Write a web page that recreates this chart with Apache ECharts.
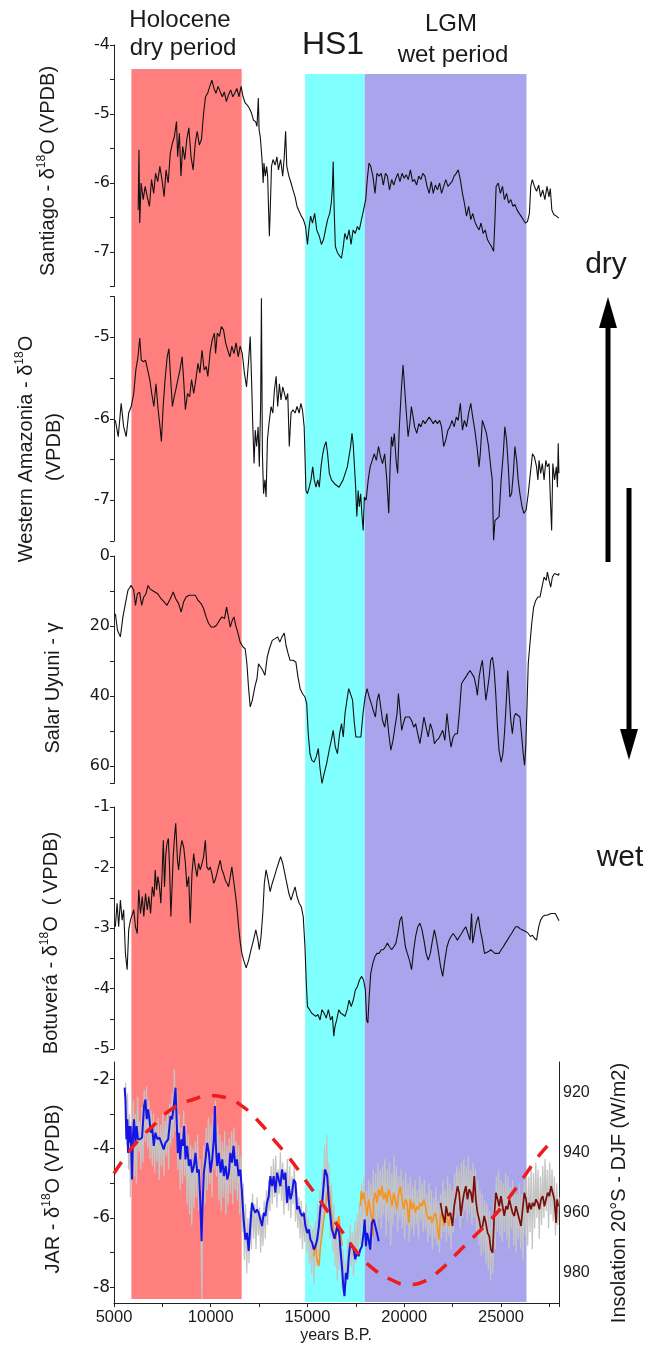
<!DOCTYPE html>
<html><head><meta charset="utf-8">
<script src="https://cdn.jsdelivr.net/npm/echarts@6.0.0/dist/echarts.min.js"></script>
<style>html,body{margin:0;padding:0;background:#fff}#c{width:648px;height:1345px}</style>
</head><body><div id="c"></div>
<script>
// ---------- DATA ----------
const X_TICKS = [5000, 10000, 15000, 20000, 25000];
const BAND_NAMES = ['Holocene dry period', 'HS1', 'LGM wet period'];
const BAND_START = [5900, 14880, 17960];
const BAND_END = [11600, 17960, 26320];

const SANTIAGO_YR = [6250,6290,6330,6400,6510,6610,6720,6830,6940,7050,7150,7260,7370,7480,7590,7690,7800,7910,8020,8120,8230,8290,8380,8460,8550,8660,8760,8870,8980,9090,9200,9300,9410,9520,9630,9730,9840,9950,10060,10170,10270,10380,10490,10600,10700,10810,10920,11030,11140,11240,11350,11460,11570,11670,11780,11890,12000,12110,12210,12320,12390,12460,12500,12560,12600,12650,12710,12750,12820,12890,12940,13030,13070,13140,13220,13330,13420,13500,13610,13720,13800,13870,13930,14040,14150,14250,14360,14460,14570,14680,14790,14900,15000,15070,15160,15260,15370,15480,15610,15720,15830,15930,16040,16150,16230,16290,16330,16380,16440,16550,16670,16760,16850,16930,17040,17150,17250,17360,17470,17580,17680,17790,17900,18010,18090,18180,18270,18380,18490,18590,18700,18810,18920,19030,19130,19240,19350,19460,19570,19670,19780,19890,20000,20100,20210,20320,20430,20530,20640,20750,20860,20960,21070,21180,21290,21400,21500,21610,21720,21830,21930,22040,22150,22260,22360,22470,22580,22690,22790,22900,23010,23110,23220,23330,23440,23540,23650,23760,23870,23970,24080,24190,24300,24400,24510,24620,24690,24750,24860,24970,25080,25180,25290,25400,25510,25620,25720,25830,25940,26040,26150,26260,26370,26470,26540,26620,26730,26840,26950,27050,27160,27270,27380,27480,27550,27630,27740,27870,27990];
const SANTIAGO_D18O = [-6.39,-5.52,-6.58,-6.0,-6.24,-6.05,-6.2,-6.34,-5.95,-6.15,-5.86,-5.98,-5.76,-5.95,-6.2,-5.81,-6.0,-5.57,-5.42,-5.33,-5.11,-5.62,-5.28,-5.9,-5.47,-5.66,-5.37,-5.2,-5.62,-5.81,-5.42,-5.25,-5.45,-5.37,-4.99,-4.75,-4.7,-4.6,-4.51,-4.63,-4.7,-4.6,-4.68,-4.75,-4.68,-4.82,-4.72,-4.65,-4.75,-4.7,-4.63,-4.75,-4.6,-4.75,-4.84,-4.87,-4.92,-4.99,-5.09,-5.11,-5.18,-4.77,-5.23,-5.33,-5.47,-5.66,-6.0,-5.71,-5.9,-5.76,-5.9,-6.77,-6.44,-5.76,-5.66,-5.74,-5.62,-5.81,-5.66,-5.9,-5.62,-5.25,-5.76,-5.9,-6.0,-6.1,-6.2,-6.34,-6.41,-6.48,-6.53,-6.63,-6.89,-6.68,-6.48,-6.58,-6.44,-6.68,-6.77,-6.89,-6.82,-6.68,-6.53,-6.44,-6.29,-6.05,-5.69,-6.39,-6.92,-7.01,-7.06,-7.09,-6.92,-6.73,-6.82,-6.68,-6.89,-6.68,-6.73,-6.63,-6.68,-6.53,-6.39,-6.24,-5.95,-5.71,-5.76,-5.9,-6.15,-5.86,-5.9,-5.86,-6.03,-5.86,-5.9,-6.1,-5.95,-6.03,-5.93,-5.86,-5.98,-5.86,-5.93,-5.88,-5.95,-5.81,-5.98,-5.95,-6.03,-5.9,-5.95,-5.86,-5.9,-6.05,-6.15,-5.98,-6.15,-6.03,-6.1,-6.0,-6.15,-6.05,-5.95,-6.05,-6.03,-5.98,-5.9,-5.86,-5.81,-5.95,-6.15,-6.29,-6.48,-6.34,-6.53,-6.44,-6.56,-6.63,-6.68,-6.58,-6.73,-6.68,-6.82,-6.87,-6.92,-6.99,-6.53,-6.05,-6.0,-6.15,-6.05,-6.24,-6.15,-6.29,-6.24,-6.34,-6.31,-6.39,-6.44,-6.48,-6.53,-6.58,-6.56,-6.44,-6.05,-5.95,-6.05,-6.12,-6.03,-6.2,-6.1,-6.24,-6.05,-6.2,-6.08,-6.39,-6.46,-6.48,-6.51];

const AMAZONIA_YR = [5070,5220,5370,5500,5630,5760,5890,6020,6130,6240,6330,6410,6520,6630,6740,6850,6950,7060,7170,7280,7380,7450,7540,7640,7750,7840,7930,8020,8110,8190,8300,8410,8520,8600,8690,8800,8910,9010,9120,9230,9340,9440,9550,9660,9770,9850,9980,10080,10190,10250,10340,10450,10550,10660,10770,10880,10990,11090,11200,11310,11420,11520,11630,11740,11850,11960,12040,12110,12170,12240,12300,12370,12450,12510,12580,12620,12670,12730,12800,12860,12930,13010,13120,13210,13290,13380,13460,13550,13630,13720,13810,13890,13980,14060,14150,14250,14360,14460,14570,14660,14740,14830,14920,15000,15090,15180,15270,15350,15440,15530,15610,15700,15790,15870,15960,16040,16130,16240,16410,16630,16840,17060,17230,17300,17360,17430,17490,17550,17620,17680,17750,17810,17880,17940,18030,18140,18240,18350,18450,18560,18670,18780,18880,18990,19100,19200,19270,19340,19400,19490,19580,19660,19740,19850,19940,20030,20110,20200,20290,20370,20460,20540,20650,20760,20860,20970,21080,21180,21290,21400,21500,21610,21720,21830,21930,22040,22150,22260,22360,22470,22580,22690,22790,22900,23010,23110,23220,23330,23440,23540,23650,23760,23870,23930,24040,24150,24250,24360,24470,24550,24620,24690,24790,24900,25010,25120,25200,25290,25380,25460,25550,25640,25720,25810,25890,25980,26090,26190,26300,26410,26520,26630,26730,26840,26910,26970,27050,27140,27230,27320,27400,27490,27550,27620,27680,27770,27860,27920,27960,27995];
const AMAZONIA_D18O = [-6.02,-6.22,-5.81,-6.1,-6.22,-5.93,-5.85,-5.69,-5.4,-5.24,-5.01,-5.28,-5.3,-5.28,-5.4,-5.52,-5.69,-5.85,-5.57,-5.89,-6.1,-6.28,-5.85,-5.52,-5.24,-5.14,-5.52,-5.85,-5.73,-5.65,-5.52,-5.4,-5.24,-5.52,-5.89,-5.69,-5.73,-5.52,-5.69,-5.52,-5.32,-5.44,-5.16,-5.4,-5.36,-5.48,-5.16,-5.03,-4.95,-5.2,-4.95,-4.99,-4.87,-4.91,-5.07,-5.16,-5.24,-5.11,-5.2,-5.07,-5.24,-5.11,-5.2,-5.44,-5.61,-5.28,-4.99,-5.52,-6.06,-6.55,-6.14,-6.34,-6.1,-6.59,-5.81,-4.52,-6.43,-6.92,-6.75,-6.96,-6.26,-6.06,-5.85,-5.93,-5.65,-5.48,-5.85,-5.57,-5.77,-5.61,-5.69,-5.77,-5.69,-6.34,-5.93,-5.89,-5.93,-5.85,-5.93,-5.81,-5.89,-6.1,-6.88,-6.92,-6.84,-6.75,-6.59,-6.75,-6.84,-6.75,-6.84,-6.59,-6.43,-6.34,-6.28,-6.43,-6.67,-6.75,-6.8,-6.84,-6.75,-6.59,-6.34,-6.18,-6.3,-6.59,-6.84,-7.2,-6.88,-7.08,-6.92,-7.16,-7.37,-6.96,-7.0,-6.75,-6.59,-6.51,-6.43,-6.51,-6.34,-6.47,-6.55,-6.43,-6.75,-7.16,-6.59,-6.22,-6.34,-6.18,-6.51,-6.67,-6.14,-5.65,-5.34,-5.65,-5.93,-6.22,-6.06,-5.85,-5.98,-6.1,-6.18,-6.06,-6.1,-6.02,-6.06,-6.02,-5.98,-6.02,-6.06,-6.02,-6.06,-6.02,-6.1,-6.34,-6.26,-6.14,-6.1,-6.02,-6.1,-5.98,-6.02,-5.81,-6.14,-6.02,-6.1,-5.93,-5.81,-5.98,-6.14,-6.34,-6.59,-6.43,-6.02,-6.1,-6.18,-6.34,-6.59,-6.75,-7.49,-7.25,-7.25,-7.2,-6.75,-6.43,-6.1,-6.26,-6.59,-6.96,-6.92,-6.67,-6.34,-6.51,-6.75,-6.92,-7.08,-7.16,-7.12,-6.92,-6.67,-6.43,-6.47,-6.59,-6.75,-6.51,-6.67,-6.55,-6.75,-6.51,-6.59,-6.55,-6.96,-7.37,-6.55,-6.75,-6.59,-6.84,-6.3,-6.67];

const UYUNI_YR = [5070,5180,5330,5460,5590,5720,5890,6020,6110,6210,6320,6430,6540,6650,6760,6850,6960,7110,7260,7430,7590,7740,7910,8060,8190,8340,8470,8600,8730,8880,9030,9200,9350,9500,9630,9760,9890,10020,10170,10300,10450,10580,10710,10820,10900,11010,11110,11200,11290,11390,11520,11670,11780,11870,11950,12040,12150,12280,12390,12470,12580,12690,12800,12920,13030,13180,13330,13460,13570,13680,13800,13890,14000,14100,14250,14400,14510,14620,14740,14870,14960,15040,15130,15230,15340,15450,15560,15640,15750,15860,15990,16120,16230,16330,16440,16550,16660,16760,16850,16940,17040,17130,17220,17330,17410,17500,17630,17760,17870,17980,18080,18190,18300,18400,18510,18600,18690,18770,18880,18990,19100,19200,19310,19420,19520,19630,19700,19780,19870,19950,20060,20160,20270,20380,20490,20590,20700,20810,20920,21020,21130,21240,21350,21460,21560,21670,21780,21880,21990,22100,22210,22320,22420,22530,22640,22750,22860,22960,23070,23180,23290,23400,23500,23610,23720,23780,23870,23960,24040,24130,24220,24300,24390,24470,24560,24650,24730,24820,24900,25010,25100,25180,25270,25350,25440,25510,25590,25680,25760,25870,25980,26060,26150,26220,26280,26350,26410,26500,26590,26690,26800,26910,27020,27120,27230,27340,27400,27490,27570,27660,27770,27870,27980,28000];
const UYUNI_GAMMA = [16.5,21.2,23.1,17.4,13.6,9.8,8.4,9.8,14.1,10.8,10.3,14.1,11.7,10.8,8.4,9.3,9.8,10.3,10.8,12.2,13.1,14.1,12.2,10.3,12.2,13.6,16.0,13.1,11.7,11.2,11.2,11.2,12.7,13.6,15.0,17.4,19.3,20.3,20.3,19.8,18.4,17.4,17.9,14.6,17.0,20.3,18.4,17.4,19.8,21.7,24.6,26.0,26.5,30.8,37.4,43.1,41.2,37.4,35.0,30.8,31.7,32.7,34.1,28.9,26.5,24.1,23.6,23.1,24.6,23.1,22.0,25.5,27.9,29.8,29.8,30.3,34.6,37.9,39.3,40.3,42.2,50.8,56.5,58.4,58.9,57.4,55.0,60.3,65.0,62.2,59.3,55.5,52.7,49.8,54.6,56.5,50.8,47.9,51.7,45.0,41.2,37.9,39.3,41.2,47.0,51.7,51.7,51.7,45.0,40.3,37.9,40.3,42.2,44.1,46.0,41.2,39.3,42.5,47.0,48.9,45.0,50.8,55.5,52.7,48.9,45.0,39.3,44.1,49.8,47.9,46.0,46.0,46.0,47.0,48.9,47.9,50.8,53.6,49.8,46.0,48.9,51.7,47.9,49.8,53.6,52.7,52.2,51.7,49.8,52.7,45.0,50.8,54.6,51.7,50.8,50.8,44.1,36.5,35.5,34.6,33.6,32.7,32.2,34.6,37.4,39.8,34.6,31.7,29.8,35.5,41.2,38.3,34.6,29.8,28.9,32.7,39.3,48.9,55.5,58.9,56.5,50.8,42.2,32.7,41.2,47.0,50.8,46.0,45.0,45.5,46.0,50.8,56.5,59.8,54.6,42.2,30.8,25.0,19.3,14.6,12.7,11.7,11.7,8.9,6.0,7.0,4.6,7.0,8.9,6.0,5.0,5.5,5.5,4.9];

const BOTUVERA_YR = [5070,5160,5240,5330,5420,5500,5590,5680,5760,5850,5930,6020,6110,6200,6280,6370,6460,6540,6630,6720,6800,6890,6980,7070,7130,7200,7270,7350,7420,7480,7550,7610,7680,7740,7810,7870,7940,8000,8060,8130,8190,8280,8340,8430,8510,8600,8690,8770,8860,8940,9030,9120,9200,9290,9370,9460,9550,9630,9720,9800,9890,9970,10060,10150,10230,10320,10400,10490,10580,10660,10750,10840,10920,11010,11090,11180,11270,11350,11440,11530,11610,11700,11830,11960,12080,12210,12330,12440,12510,12600,12690,12770,12860,12970,13070,13180,13290,13390,13500,13610,13720,13830,13930,14040,14150,14250,14360,14460,14570,14680,14780,14870,14940,15000,15110,15220,15320,15430,15540,15650,15750,15860,15970,16080,16190,16290,16360,16420,16510,16620,16720,16830,16940,17050,17150,17260,17370,17480,17580,17690,17800,17900,17990,18060,18120,18190,18270,18380,18490,18590,18700,18810,18920,19030,19130,19240,19350,19460,19570,19670,19780,19870,19950,20060,20160,20270,20380,20490,20590,20700,20810,20920,21020,21130,21240,21350,21460,21560,21670,21780,21880,21990,22100,22210,22320,22420,22530,22640,22750,22860,22960,23070,23180,23290,23400,23480,23540,23630,23720,23830,23930,24040,24150,24250,24360,24470,24580,24690,24790,24900,25010,25120,25230,25330,25440,25550,25660,25760,25870,25980,26090,26190,26300,26410,26520,26630,26730,26840,26950,27050,27160,27270,27380,27480,27590,27700,27810,27910,28000];
const BOTUVERA_D18O = [-2.98,-2.59,-2.98,-2.54,-2.87,-2.70,-3.42,-3.69,-3.03,-2.87,-2.87,-2.70,-2.98,-3.09,-2.37,-2.76,-2.48,-2.81,-2.43,-2.70,-2.48,-2.76,-2.32,-2.48,-2.04,-2.37,-2.15,-2.32,-2.59,-2.15,-1.55,-2.32,-1.77,-1.60,-1.52,-1.99,-2.81,-2.32,-1.82,-1.49,-1.27,-1.88,-2.04,-1.71,-1.55,-1.66,-1.93,-2.32,-2.15,-2.92,-2.10,-1.77,-1.99,-2.15,-1.93,-2.04,-1.93,-1.82,-1.55,-1.99,-2.04,-1.99,-2.10,-2.26,-2.21,-2.10,-1.99,-1.88,-2.04,-2.10,-2.21,-2.26,-2.32,-2.15,-1.99,-2.21,-2.43,-2.65,-2.98,-3.25,-3.42,-3.53,-3.66,-3.53,-3.36,-3.20,-3.03,-3.20,-3.36,-3.14,-2.76,-2.26,-2.04,-2.21,-2.40,-2.26,-2.15,-2.04,-1.93,-1.82,-1.93,-2.10,-2.26,-2.43,-2.54,-2.43,-2.32,-2.48,-2.59,-2.65,-2.81,-3.31,-3.91,-4.30,-4.35,-4.41,-4.43,-4.46,-4.43,-4.52,-4.35,-4.41,-4.49,-4.35,-4.52,-4.46,-4.79,-4.63,-4.52,-4.35,-4.41,-4.43,-4.46,-4.35,-4.19,-4.30,-4.19,-4.02,-3.97,-3.86,-3.80,-3.86,-4.02,-4.52,-4.57,-4.13,-3.75,-3.58,-3.47,-3.42,-3.42,-3.36,-3.36,-3.31,-3.25,-3.31,-3.36,-3.31,-3.25,-3.09,-2.87,-2.81,-3.03,-3.31,-3.42,-3.53,-3.69,-3.36,-3.14,-2.98,-2.92,-3.03,-3.20,-3.42,-3.53,-3.42,-3.20,-3.03,-3.20,-3.42,-3.64,-3.80,-3.53,-3.31,-3.20,-3.14,-3.09,-3.14,-3.20,-3.14,-3.09,-3.03,-2.98,-3.09,-3.20,-2.76,-3.25,-3.09,-2.92,-2.81,-3.03,-3.20,-3.42,-3.42,-3.39,-3.36,-3.39,-3.42,-3.45,-3.42,-3.36,-3.31,-3.25,-3.20,-3.14,-3.09,-3.03,-2.98,-2.98,-3.01,-3.03,-3.03,-3.06,-3.09,-3.14,-3.12,-3.17,-3.20,-2.98,-2.87,-2.81,-2.79,-2.79,-2.79,-2.76,-2.76,-2.76,-2.79,-2.88];

const JAR_BLUE_YR = [5550,5590,5640,5690,5725,5760,5810,5860,5930,5985,6035,6105,6170,6240,6345,6450,6555,6625,6690,6760,6830,6900,6970,7055,7140,7245,7350,7450,7570,7660,7800,7920,8005,8090,8180,8230,8300,8350,8420,8490,8560,8625,8695,8780,8870,8955,9040,9130,9215,9300,9385,9440,9490,9525,9575,9645,9730,9815,9905,9990,10075,10160,10215,10265,10335,10420,10510,10595,10680,10770,10855,10940,11010,11100,11180,11270,11355,11440,11530,11615,11700,11790,11875,11960,12045,12130,12220,12305,12390,12480,12565,12650,12740,12825,12910,12995,13080,13170,13255,13340,13430,13515,13600,13685,13775,13860,13945,14030,14120,14205,14290,14380,14465,14550,14640,14725,14810,14895,14985,15070,15155,15240,15330,15415,15500,15590,15675,15760,15845,15900,15965,16020,16100,16250,16400,16550,16650,16690,16780,16865,16915,16985,17055,17125,17210,17300,17385,17470,17555,17640,17730,17815,17900,17955,18020,18075,18160,18245,18330,18420,18505,18590,18680];
const JAR_BLUE_D18O = [-2.24,-2.58,-3.73,-3.15,-4.12,-3.35,-3.83,-3.35,-4.89,-3.54,-3.15,-3.83,-3.35,-3.73,-3.73,-3.68,-2.77,-2.58,-3.15,-2.87,-3.15,-3.54,-3.35,-3.92,-3.54,-3.73,-3.68,-3.73,-4.02,-3.83,-3.73,-3.06,-3.15,-2.77,-2.24,-3.06,-4.12,-3.54,-4.31,-3.73,-3.92,-3.35,-4.31,-3.92,-4.5,-4.31,-4.69,-4.5,-4.12,-4.69,-4.6,-5.27,-6.04,-6.67,-5.66,-4.69,-4.31,-3.83,-4.12,-4.69,-4.31,-3.73,-2.77,-3.92,-4.5,-4.12,-4.69,-4.31,-4.79,-4.5,-4.89,-4.69,-4.12,-4.4,-3.92,-4.5,-4.31,-4.79,-4.6,-5.27,-6.04,-6.62,-6.43,-6.95,-6.23,-5.56,-5.75,-5.85,-5.75,-5.85,-6.04,-6.23,-5.85,-5.94,-5.56,-5.37,-4.79,-5.08,-4.79,-5.27,-4.69,-4.89,-5.08,-4.6,-4.89,-4.69,-5.56,-5.08,-5.46,-5.27,-4.89,-4.98,-5.75,-5.66,-5.85,-5.94,-5.85,-6.23,-6.43,-6.33,-6.62,-6.71,-6.91,-6.81,-6.62,-6.23,-5.66,-5.56,-4.98,-4.6,-4.69,-4.79,-5.5,-6.3,-6.6,-6.2,-6.5,-6.81,-7.39,-8.06,-8.25,-7.58,-7.77,-7.19,-6.71,-6.81,-6.91,-7.19,-7.0,-7.1,-6.91,-6.81,-6.43,-6.04,-6.81,-6.43,-6.62,-6.91,-6.14,-6.04,-6.23,-6.43,-6.67];

const JAR_ORANGE_A_YR = [15330,15415,15500,15590,15675,15760,15845,15935,16020,16105,16190,16280,16365,16450,16535,16620,16710,16795];
const JAR_ORANGE_A_D18O = [-7.1,-6.71,-7.19,-7.39,-6.81,-6.43,-6.04,-5.66,-5.27,-5.08,-5.56,-6.04,-6.43,-6.62,-6.23,-5.94,-6.43,-6.81];
const JAR_ORANGE_B_YR = [17730,17780,17850,17920,17990,18075,18160,18245,18330,18380,18420,18505,18590,18680,18765,18850,18935,19025,19110,19195,19285,19370,19455,19540,19630,19715,19800,19890,19975,20060,20145,20230,20320,20405,20490,20580,20665,20750,20835,20925,21010,21095,21180,21270,21355,21440,21530,21615,21700,21790,21875,21960,22045,22130,22220,22305,22390];
const JAR_ORANGE_B_D18O = [-5.66,-5.22,-5.46,-5.27,-5.56,-5.94,-5.46,-5.75,-6.04,-6.52,-5.46,-5.27,-5.56,-5.17,-5.37,-5.08,-5.46,-5.27,-5.56,-5.17,-5.37,-5.66,-5.27,-5.46,-5.75,-5.27,-5.08,-5.46,-5.75,-5.46,-5.56,-6.14,-5.46,-5.75,-5.56,-5.85,-5.66,-5.75,-5.56,-5.66,-5.46,-5.66,-5.94,-6.04,-5.94,-6.14,-5.94,-5.85,-6.14,-6.62,-5.94,-5.85,-6.23,-5.94,-6.04,-6.23,-5.85];
const JAR_MAROON_YR = [21875,21960,22100,22165,22270,22390,22495,22580,22670,22755,22840,22930,23010,23100,23185,23270,23360,23445,23530,23620,23700,23790,23875,23960,24050,24135,24220,24310,24395,24480,24570,24655,24740,24825,24910,25000,25085,25170,25260,25345,25430,25515,25600,25690,25775,25860,25950,26035,26120,26210,26295,26380,26465,26550,26640,26725,26810,26900,26985,27070,27160,27245,27330,27415,27500,27590,27675,27760,27850,27900,27960];
const JAR_MAROON_D18O = [-5.56,-5.85,-6.14,-5.66,-5.94,-5.85,-6.23,-5.66,-5.37,-5.08,-5.27,-5.94,-5.56,-5.27,-5.08,-5.46,-5.17,-5.27,-5.56,-4.79,-5.46,-5.85,-6.04,-6.33,-6.23,-5.94,-6.14,-6.43,-6.52,-6.91,-7.0,-5.94,-5.27,-5.46,-5.66,-5.37,-5.66,-5.94,-5.66,-5.75,-5.46,-5.66,-5.85,-5.94,-5.66,-5.85,-6.04,-6.23,-5.75,-5.27,-5.46,-5.85,-5.56,-5.75,-5.56,-5.66,-5.46,-5.56,-5.75,-5.46,-5.37,-5.66,-5.46,-5.27,-5.37,-5.08,-5.27,-5.46,-6.14,-5.46,-5.66];

const JAR_GRAY_YR = [5600,5650,5700,5760,5800,5850,5900,5960,6000,6060,6110,6160,6220,6280,6330,6390,6440,6500,6560,6620,6680,6740,6800,6860,6920,6980,7040,7100,7160,7220,7280,7340,7400,7460,7520,7580,7640,7700,7760,7820,7880,7940,8000,8060,8120,8180,8240,8300,8360,8420,8480,8540,8600,8660,8720,8780,8840,8900,8960,9020,9080,9140,9200,9260,9320,9380,9440,9500,9540,9580,9640,9700,9760,9820,9880,9940,10000,10060,10120,10180,10240,10300,10360,10420,10480,10540,10600,10660,10720,10780,10840,10900,10960,11020,11080,11140,11200,11260,11320,11380,11440,11500,11560,11620,11680,11740,11800,11860,11920,11980,12040,12100,12160,12220,12280,12340,12400,12460,12520,12580,12640,12700,12760,12820,12880,12940,13000,13060,13120,13180,13240,13300,13360,13420,13480,13540,13600,13660,13720,13780,13840,13900,13960,14020,14080,14140,14200,14260,14320,14380,14440,14500,14560,14620,14680,14740,14800,14860,14920,14980,15040,15100,15160,15220,15280,15340,15400,15460,15520,15580,15640,15700,15760,15820,15880,15940,16000,16060,16120,16180,16240,16300,16360,16420,16480,16540,16600,16660,16720,16780,16840,16900,16960,17020,17080,17140,17200,17260,17320,17380,17440,17500,17560,17620,17680,17740,17800,17860,17920,17980,18040,18100,18160,18220,18280,18340,18400,18460,18520,18580,18640,18700,18760,18820,18880,18940,19000,19060,19120,19180,19240,19300,19360,19420,19480,19540,19600,19660,19720,19780,19840,19900,19960,20020,20080,20140,20200,20260,20320,20380,20440,20500,20560,20620,20680,20740,20800,20860,20920,20980,21040,21100,21160,21220,21280,21340,21400,21460,21520,21580,21640,21700,21760,21820,21880,21940,22000,22060,22120,22180,22240,22300,22360,22420,22480,22540,22600,22660,22720,22780,22840,22900,22960,23020,23080,23140,23200,23260,23320,23380,23440,23500,23560,23620,23680,23740,23800,23860,23920,23980,24040,24100,24160,24220,24280,24340,24400,24460,24520,24580,24640,24700,24760,24820,24880,24940,25000,25060,25120,25180,25240,25300,25360,25420,25480,25540,25600,25660,25720,25780,25840,25900,25960,26020,26080,26140,26200,26260,26320,26380,26440,26500,26560,26620,26680,26740,26800,26860,26920,26980,27040,27100,27160,27220,27280,27340,27400,27460,27520,27580,27640,27700,27760,27820,27880,27940,28000];
const JAR_GRAY_D18O = [-2.1,-3.9,-2.4,-4.6,-3.0,-5.4,-3.2,-4.2,-2.6,-4.8,-3.0,-5.0,-2.5,-4.1,-3.2,-4.6,-2.8,-4.4,-2.3,-3.8,-2.2,-4.0,-2.6,-4.3,-2.9,-4.5,-3.0,-4.7,-3.2,-4.4,-3.1,-4.9,-3.3,-4.5,-3.0,-4.8,-3.2,-4.2,-2.9,-4.6,-2.7,-3.9,-2.4,-3.7,-1.7,-3.5,-2.3,-4.6,-3.0,-5.2,-3.4,-5.0,-2.9,-4.8,-3.3,-5.6,-3.6,-5.9,-3.9,-6.2,-4.0,-5.7,-3.8,-5.4,-3.6,-5.8,-4.3,-6.5,-8.35,-5.2,-3.9,-5.6,-3.4,-5.2,-3.1,-5.0,-3.3,-5.4,-3.0,-4.6,-2.6,-4.8,-3.3,-5.5,-3.6,-5.8,-3.8,-5.4,-3.5,-5.9,-3.9,-5.6,-3.7,-5.3,-3.5,-5.6,-3.4,-5.2,-3.8,-5.5,-3.9,-5.9,-4.2,-6.4,-5.0,-7.2,-5.6,-7.6,-6.0,-7.3,-5.8,-6.9,-5.3,-6.6,-5.6,-6.9,-5.4,-6.5,-5.7,-7.0,-5.9,-6.8,-5.5,-6.6,-5.2,-6.2,-4.9,-5.8,-4.5,-5.6,-4.3,-5.4,-4.2,-5.7,-4.6,-5.3,-4.1,-5.5,-4.4,-5.9,-4.6,-5.6,-4.3,-5.8,-4.5,-6.0,-4.8,-5.6,-4.4,-6.1,-5.2,-6.3,-5.4,-6.6,-5.5,-6.9,-5.8,-6.7,-5.6,-7.0,-6.0,-7.3,-6.2,-7.6,-6.3,-7.9,-6.1,-7.4,-5.6,-7.1,-5.2,-6.6,-4.6,-6.2,-3.9,-5.6,-3.6,-5.8,-4.4,-6.6,-5.0,-7.0,-5.6,-7.4,-6.0,-7.8,-6.3,-7.5,-6.5,-8.0,-6.9,-8.3,-7.2,-7.9,-6.6,-7.6,-6.2,-7.4,-6.4,-7.7,-6.1,-7.3,-5.9,-7.0,-5.6,-6.8,-5.0,-6.3,-4.8,-6.0,-5.2,-6.6,-4.9,-6.4,-5.0,-6.9,-4.6,-6.2,-4.7,-6.5,-4.4,-6.0,-4.6,-6.3,-4.5,-5.9,-4.3,-6.5,-4.6,-6.1,-4.4,-6.8,-4.7,-6.2,-4.2,-5.9,-4.5,-6.4,-4.8,-6.0,-4.6,-6.3,-4.9,-6.6,-4.7,-6.2,-5.0,-6.7,-4.8,-6.3,-5.1,-6.5,-4.9,-6.2,-5.2,-6.6,-4.8,-6.1,-5.0,-6.4,-4.9,-6.3,-5.3,-6.7,-5.0,-6.5,-5.2,-6.9,-5.4,-6.6,-5.1,-6.8,-5.5,-7.0,-5.3,-6.6,-4.9,-6.4,-5.2,-6.7,-4.8,-6.5,-5.0,-6.9,-5.2,-6.4,-4.7,-6.0,-4.5,-5.9,-4.6,-6.3,-4.4,-6.0,-4.3,-5.8,-4.5,-6.1,-4.2,-5.9,-4.6,-6.2,-4.4,-6.0,-4.6,-6.5,-4.9,-6.8,-5.2,-7.1,-5.3,-7.0,-5.5,-7.3,-5.6,-7.5,-5.8,-7.8,-6.0,-7.6,-5.4,-6.9,-4.8,-6.4,-4.6,-6.5,-4.9,-6.7,-5.0,-6.4,-4.7,-6.6,-4.8,-6.9,-5.1,-6.3,-4.9,-6.8,-5.2,-7.0,-5.3,-6.6,-5.0,-6.9,-5.3,-7.2,-4.9,-6.5,-4.6,-6.8,-4.8,-6.4,-4.5,-6.9,-4.7,-6.3,-4.4,-6.0,-4.6,-6.6,-4.8,-6.2,-4.5,-6.0,-4.3,-5.8,-4.6,-6.3,-4.4,-5.9,-4.6,-6.1,-4.8,-6.5,-5.0,-6.2,-5.4];

const INSOLATION_YR = [5000,5970,7050,8120,9200,9850,10710,11570,12430,13290,14150,15010,15870,16730,17590,18450,19310,20170,21030,21890,22750,23610,24470,25330,26190,27050,27700];
const INSOLATION_DJF = [947.0,938.2,931.0,925.0,922.2,921.1,921.7,924.4,929.4,936.0,942.6,950.3,958.0,965.8,973.4,978.9,982.2,983.9,982.8,978.9,973.4,967.9,962.4,955.8,948.1,940.4,936.0];

// ---------- CHART ----------
const zip = (a, b) => a.map((x, i) => [x, b[i]]);
const FONT = '"Liberation Sans", Arial, sans-serif';
const TXT = '#1a1a1a';
const L = 114, R = 89;
const BAND_COLORS = ['#ff7f7f', '#80ffff', '#a9a5ec'];
const BAND_TOPS = [1233, 1228, 1228];
const BAND_BOTTOMS = [3, 0, 0];

const intOnly = v => (Math.abs(v - Math.round(v)) < 1e-9 ? String(Math.round(v)) : '');
function yAx(grid, min, max, interval, fmt, extra) {
  return Object.assign({
    gridIndex: grid, type: 'value', min, max, interval, position: 'left',
    axisLine: { show: true, lineStyle: { color: '#222', width: 1 } },
    axisTick: { show: true, length: 4, inside: false, lineStyle: { color: '#222' } },
    axisLabel: { fontFamily: '"DejaVu Sans", Verdana, sans-serif', fontSize: 16, color: TXT, margin: 4, formatter: fmt },
    splitLine: { show: false }
  }, extra || {});
}
function xAx(grid, show) {
  return {
    gridIndex: grid, type: 'value', min: 5000, max: 28000, interval: 2500, show: show,
    axisLine: { show: show, onZero: false, lineStyle: { color: '#222', width: 1 } },
    axisTick: { show: show, length: 4, lineStyle: { color: '#222' } },
    axisLabel: { show: show, fontFamily: FONT, fontSize: 16.5, color: TXT, margin: 6,
      formatter: v => (X_TICKS.indexOf(v) >= 0 ? String(v) : '') },
    splitLine: { show: false }
  };
}
function line(x, y, data, color, width, z, extra) {
  return Object.assign({
    type: 'line', xAxisIndex: x, yAxisIndex: y, data, showSymbol: false, symbol: 'none',
    lineStyle: { color, width }, itemStyle: { color }, z, silent: true, animation: false
  }, extra || {});
}

const grids = [
  { left: L, right: R, top: 69, height: 1233 },
  { left: L, right: R, top: 45, height: 241.5 },
  { left: L, right: R, top: 296.5, height: 244.5 },
  { left: L, right: R, top: 556, height: 227.5 },
  { left: L, right: R, top: 807, height: 242 },
  { left: L, right: R, top: 1062, height: 241 }
].map(g => Object.assign(g, { containLabel: false, outerBoundsMode: 'none' }));

const markData = BAND_START.map((s, i) => [
  { coord: [s, BAND_TOPS[i]], itemStyle: { color: BAND_COLORS[i], opacity: 1 }, name: BAND_NAMES[i] },
  { coord: [BAND_END[i], BAND_BOTTOMS[i]] }
]);

const sup = (pre, post) => `{n|${pre}}{s|18}{n|${post}}`;
const richN = { n: { fontFamily: FONT, fontSize: 20, lineHeight: 24, fill: TXT, color: TXT, verticalAlign: 'middle' },
                s: { fontFamily: FONT, fontSize: 12, lineHeight: 14, fill: TXT, color: TXT, verticalAlign: 'top' } };
function vtext(x, y, text, size) {
  return { type: 'text', x, y, rotation: Math.PI / 2, z: 50,
    style: { text, font: `${size || 20}px ${FONT}`, fill: TXT, align: 'center', verticalAlign: 'middle', rich: richN } };
}
function htext(x, y, text, size) {
  return { type: 'text', x, y, z: 50,
    style: { text, font: `${size}px ${FONT}`, fill: TXT, align: 'center', verticalAlign: 'middle' } };
}

const option = {
  animation: false,
  backgroundColor: '#fff',
  grid: grids,
  xAxis: [xAx(0, false), xAx(1, false), xAx(2, false), xAx(3, false), xAx(4, false), xAx(5, true)],
  yAxis: [
    { gridIndex: 0, type: 'value', min: 0, max: 1233, show: false },
    yAx(1, -7.5, -4, 0.5, intOnly),
    yAx(2, -7.5, -4.5, 0.5, intOnly),
    yAx(3, 0, 65, 10, v => (v % 20 === 0 ? String(v) : ''), { inverse: true }),
    yAx(4, -5, -1, 0.5, intOnly),
    yAx(5, -8.45, -1.5, null, v => String(v), {
      interval: undefined,
      axisTick: { show: true, length: 4, lineStyle: { color: '#222' }, customValues: [-8, -7, -6, -5, -4, -3, -2] },
      axisLabel: { fontFamily: '"DejaVu Sans", Verdana, sans-serif', fontSize: 17, color: TXT, margin: 4, customValues: [-8, -6, -4, -2] }
    }),
    { gridIndex: 5, type: 'value', min: 910, max: 990, inverse: true, position: 'right',
      axisLine: { show: true, lineStyle: { color: '#222', width: 1 } },
      axisTick: { show: false },
      axisLabel: { fontFamily: FONT, fontSize: 16, color: TXT, margin: 4, customValues: [920, 940, 960, 980] },
      splitLine: { show: false } }
  ],
  series: [
    { type: 'line', xAxisIndex: 0, yAxisIndex: 0, data: [], z: 0, silent: true,
      markArea: { silent: true, z: 0, label: { show: false }, data: markData } },
    line(1, 1, zip(SANTIAGO_YR, SANTIAGO_D18O), '#111', 1.1, 5),
    line(2, 2, zip(AMAZONIA_YR, AMAZONIA_D18O), '#111', 1.1, 5),
    line(3, 3, zip(UYUNI_YR, UYUNI_GAMMA), '#111', 1.1, 5),
    line(4, 4, zip(BOTUVERA_YR, BOTUVERA_D18O), '#111', 1.1, 5),
    line(5, 5, zip(JAR_GRAY_YR, JAR_GRAY_D18O), '#c4c4c4', 1.3, 4),
    line(5, 5, zip(JAR_ORANGE_A_YR, JAR_ORANGE_A_D18O), '#f7931e', 1.6, 6),
    line(5, 5, zip(JAR_ORANGE_B_YR, JAR_ORANGE_B_D18O), '#f7931e', 1.6, 6),
    line(5, 5, zip(JAR_MAROON_YR, JAR_MAROON_D18O), '#7a0c0c', 1.7, 7),
    line(5, 5, zip(JAR_BLUE_YR, JAR_BLUE_D18O), '#1414e6', 2, 7),
    line(5, 6, zip(INSOLATION_YR, INSOLATION_DJF), '#ee1c1c', 3.5, 9,
      { smooth: 0.5, lineStyle: { color: '#ee1c1c', width: 3.5, type: [14, 12] } })
  ],
  graphic: [
    htext(180, 20, 'Holocene', 24),
    htext(183, 48, 'dry period', 24),
    htext(333, 45, 'HS1', 32),
    htext(451, 24, 'LGM', 24),
    htext(453, 55, 'wet period', 24),
    htext(606, 265, 'dry', 30),
    htext(620, 858, 'wet', 30),
    htext(336, 1336, 'years B.P.', 16),
    vtext(48, 171, sup('Santiago - δ', 'O (VPDB)')),
    vtext(26, 449, sup('Western Amazonia - δ', 'O')),
    vtext(54, 447, '{n|(VPDB)}'),
    vtext(53, 688, '{n|Salar Uyuni - γ}'),
    vtext(51, 943, sup('Botuverá - δ', 'O  ( VPDB)')),
    vtext(53, 1189, sup('JAR - δ', 'O (VPDB)')),
    vtext(619, 1193, '{n|Insolation 20°S - DJF (W/m2)}'),
    { type: 'line', z: 50, shape: { x1: 608, y1: 562, x2: 608, y2: 322 }, style: { stroke: '#000', lineWidth: 5 } },
    { type: 'polygon', z: 50, shape: { points: [[599, 328], [617, 328], [608, 297]] }, style: { fill: '#000' } },
    { type: 'line', z: 50, shape: { x1: 629, y1: 488, x2: 629, y2: 735 }, style: { stroke: '#000', lineWidth: 5 } },
    { type: 'polygon', z: 50, shape: { points: [[620, 729], [638, 729], [629, 760]] }, style: { fill: '#000' } }
  ]
};
const chart = echarts.init(document.getElementById('c'), null, { renderer: 'canvas' });
chart.setOption(option);
</script></body></html>
